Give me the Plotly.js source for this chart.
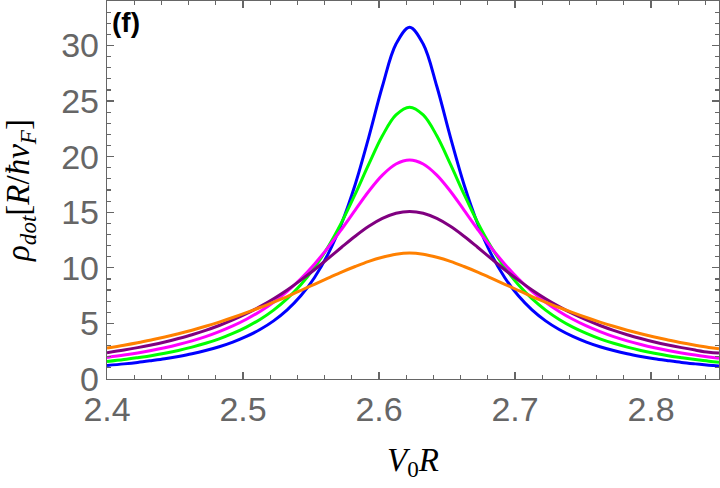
<!DOCTYPE html>
<html>
<head>
<meta charset="utf-8">
<script src="https://cdn.plot.ly/plotly-3.0.1.min.js"></script>
<style>
  html, body { margin: 0; padding: 0; background: #fff; }
  #chart { width: 720px; height: 488px; }
</style>
</head>
<body>
<div id="chart"></div>
<script>
// V0R (横軸) の標本点。ピーク 2.6225 の前後を 0.01 刻みで読み取り
const xValues = [
  2.40, 2.4125, 2.4225, 2.4325, 2.4425, 2.4525, 2.4625, 2.4725, 2.4825, 2.4925, 2.5025,
  2.5125, 2.5225, 2.5325, 2.5425, 2.5525, 2.5625, 2.5725, 2.5825, 2.5925, 2.6025, 2.6125,
  2.6225,
  2.6325, 2.6425, 2.6525, 2.6625, 2.6725, 2.6825, 2.6925, 2.7025, 2.7125, 2.7225, 2.7325,
  2.7425, 2.7525, 2.7625, 2.7725, 2.7825, 2.7925, 2.8025, 2.8125, 2.8225, 2.8325, 2.8425, 2.85
]

const blueValues = [
  1.22, 1.36, 1.49, 1.65, 1.82, 2.03, 2.27, 2.56, 2.90, 3.32, 3.83,
  4.45, 5.23, 6.22, 7.48, 9.11, 11.23, 13.99, 17.50, 21.76, 26.33, 30.13,
  31.65,
  30.13, 26.33, 21.76, 17.50, 13.99, 11.23, 9.11, 7.48, 6.22, 5.23, 4.45,
  3.83, 3.32, 2.90, 2.56, 2.27, 2.03, 1.82, 1.65, 1.49, 1.36, 1.24, 1.17
]
const greenValues = [
  1.57, 1.75, 1.92, 2.10, 2.32, 2.57, 2.87, 3.21, 3.61, 4.10, 4.67,
  5.36, 6.20, 7.23, 8.48, 10.02, 11.88, 14.09, 16.63, 19.33, 21.88, 23.75,
  24.45,
  23.75, 21.88, 19.33, 16.63, 14.09, 11.88, 10.02, 8.48, 7.23, 6.20, 5.36,
  4.67, 4.10, 3.61, 3.21, 2.87, 2.57, 2.32, 2.10, 1.92, 1.75, 1.60, 1.51
]
const magentaValues = [
  1.94, 2.15, 2.34, 2.56, 2.81, 3.10, 3.43, 3.81, 4.26, 4.77, 5.37,
  6.08, 6.91, 7.88, 9.02, 10.33, 11.82, 13.47, 15.20, 16.89, 18.34, 19.34,
  19.70,
  19.34, 18.34, 16.89, 15.20, 13.47, 11.82, 10.33, 9.02, 7.88, 6.91, 6.08,
  5.37, 4.77, 4.26, 3.81, 3.43, 3.10, 2.81, 2.56, 2.34, 2.15, 1.98, 1.86
]
const purpleValues = [
  2.36, 2.60, 2.82, 3.06, 3.33, 3.64, 3.98, 4.37, 4.81, 5.31, 5.87,
  6.51, 7.22, 8.01, 8.89, 9.83, 10.83, 11.85, 12.84, 13.73, 14.44, 14.91,
  15.07,
  14.91, 14.44, 13.73, 12.84, 11.85, 10.83, 9.83, 8.89, 8.01, 7.22, 6.51,
  5.87, 5.31, 4.81, 4.37, 3.98, 3.64, 3.33, 3.06, 2.82, 2.60, 2.41, 2.33
]
const orangeValues = [
  2.79, 3.04, 3.26, 3.51, 3.78, 4.07, 4.39, 4.74, 5.12, 5.53, 5.97,
  6.43, 6.92, 7.42, 7.96, 8.52, 9.07, 9.62, 10.12, 10.58, 10.95, 11.22,
  11.33,
  11.22, 10.95, 10.58, 10.12, 9.62, 9.07, 8.52, 7.96, 7.42, 6.92, 6.43,
  5.97, 5.53, 5.12, 4.74, 4.39, 4.07, 3.78, 3.51, 3.26, 3.04, 2.84, 2.72
]

const seriesValues = [blueValues, greenValues, magentaValues, purpleValues, orangeValues]
const seriesColors = ["#0000FF", "#00FF00", "#FF00FF", "#800080", "#FF8000"]

const yTickValues = [0, 5, 10, 15, 20, 25, 30]
const xTickValues = [2.4, 2.5, 2.6, 2.7, 2.8]

const axisGray = "#666666"
const tickFont = { family: "Liberation Sans, Arial, sans-serif", size: 34, color: axisGray }
const titleFont = { family: "Liberation Serif, Times New Roman, serif", size: 33, color: "#000" }

const traces = seriesValues.map((values, index) => ({
  x: xValues,
  y: values,
  type: "scatter",
  mode: "lines",
  line: { color: seriesColors[index], width: 3, shape: "spline" },
  hoverinfo: "skip"
}))

// Mathematica 風の枠: 内向き目盛り、副目盛り、上と右にも目盛りを写す
const axisCommon = {
  showgrid: false,
  zeroline: false,
  showline: true,
  linecolor: axisGray,
  linewidth: 1.2,
  mirror: "ticks",
  ticks: "inside",
  ticklen: 7,
  tickwidth: 1.2,
  tickcolor: axisGray,
  tickfont: tickFont
}

const layout = {
  width: 720,
  height: 488,
  margin: { l: 107, r: 1, t: 1, b: 109 },
  paper_bgcolor: "#fff",
  plot_bgcolor: "#fff",
  showlegend: false,
  xaxis: {
    ...axisCommon,
    range: [2.4, 2.85],
    tickvals: xTickValues,
    ticktext: xTickValues.map((v) => v.toFixed(1)),
    minor: { dtick: 0.02, tick0: 2.4, ticks: "inside", ticklen: 4, tickwidth: 1.2, tickcolor: axisGray },
    title: { text: "<i>V</i><sub>0</sub><i>R</i>", font: titleFont, standoff: 20 }
  },
  yaxis: {
    ...axisCommon,
    range: [0, 34],
    tickvals: yTickValues,
    minor: { dtick: 1, tick0: 0, ticks: "inside", ticklen: 4, tickwidth: 1.2, tickcolor: axisGray },
    title: {
      text: "<i>ρ</i><sub><i>dot</i></sub>[<i>R</i>/<i>ħv</i><sub><i>F</i></sub>]",
      font: titleFont,
      standoff: 24
    }
  },
  annotations: [{
    text: "<b>(f)</b>",
    xref: "paper", yref: "paper",
    x: 0, y: 1,
    xanchor: "left", yanchor: "top",
    xshift: 3, yshift: -4,
    showarrow: false,
    font: { family: "Liberation Sans, Arial, sans-serif", size: 28, color: "#000" }
  }]
}

Plotly.newPlot("chart", traces, layout, { displayModeBar: false, staticPlot: true })
</script>
</body>
</html>
